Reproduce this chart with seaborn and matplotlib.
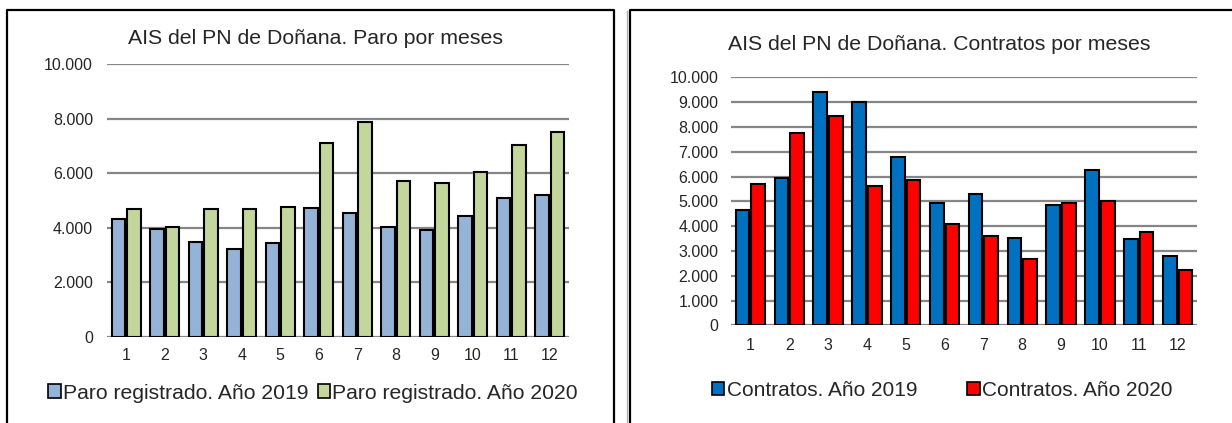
import matplotlib
matplotlib.use("Agg")
import matplotlib.pyplot as plt
from matplotlib.lines import Line2D
from matplotlib.patches import Patch
from matplotlib.ticker import FuncFormatter, MultipleLocator
import seaborn as sns
import pandas as pd

months = [str(m) for m in range(1, 13)]
paro_2019 = [4310, 3950, 3490, 3225, 3430, 4715, 4555, 4040, 3920, 4445, 5095, 5210]
paro_2020 = [4680, 4045, 4680, 4700, 4760, 7095, 7890, 5715, 5640, 6055, 7035, 7510]
contratos_2019 = [4640, 5940, 9420, 8990, 6800, 4930, 5280, 3510, 4840, 6250, 3470, 2805]
contratos_2020 = [5710, 7740, 8450, 5630, 5845, 4085, 3590, 2675, 4920, 5025, 3775, 2230]

paro_labels = ["Paro registrado. Año 2019", "Paro registrado. Año 2020"]
contratos_labels = ["Contratos. Año 2019", "Contratos. Año 2020"]
title_left = "AIS del PN de Doñana. Paro por meses"
title_right = "AIS del PN de Doñana. Contratos por meses"

paro_colors = ["#95B3D7", "#C3D69B"]
contratos_colors = ["#0070C0", "#FF0000"]

sns.set_style("white")
plt.rcParams["font.family"] = ["Liberation Sans", "DejaVu Sans"]

W, H = 1232, 423
fig = plt.figure(figsize=(W / 100, H / 100), dpi=100)


def px_axes(x0, x1, ytop, ybot):
    return fig.add_axes([x0 / W, 1 - ybot / H, (x1 - x0) / W, (ybot - ytop) / H])


def long_df(a, b, labels):
    return pd.DataFrame({
        "mes": months * 2,
        "valor": list(a) + list(b),
        "serie": [labels[0]] * 12 + [labels[1]] * 12,
    })


fmt = FuncFormatter(lambda v, p: f"{int(round(v)):,}".replace(",", "."))


def style_axes(ax, step, ypad, xpad):
    ax.set_xlim(-0.5, 11.5)
    ax.set_ylim(0, 10000)
    ax.yaxis.set_major_locator(MultipleLocator(step))
    ax.yaxis.set_major_formatter(fmt)
    ax.grid(axis="y", color="#868686", linewidth=1.6, zorder=0)
    ax.set_axisbelow(True)
    for s in ax.spines.values():
        s.set_visible(False)
    ax.tick_params(axis="y", length=0, pad=ypad, labelsize=11.5)
    ax.tick_params(axis="x", length=0, pad=xpad, labelsize=11.5)
    ax.set_xlabel("")
    ax.set_ylabel("")


# Left chart
axL = px_axes(107, 569, 64, 337)
sns.barplot(data=long_df(paro_2019, paro_2020, paro_labels), x="mes", y="valor",
            hue="serie", palette=paro_colors, saturation=1, width=0.8, gap=0.12,
            edgecolor="black", linewidth=1.5, ax=axL, legend=False, zorder=3)
style_axes(axL, 2000, 10, 8)

# Right chart
axR = px_axes(731, 1197, 77.3, 325.3)
sns.barplot(data=long_df(contratos_2019, contratos_2020, contratos_labels), x="mes", y="valor",
            hue="serie", palette=contratos_colors, saturation=1, width=0.8, gap=0.12,
            edgecolor="black", linewidth=1.5, ax=axR, legend=False, zorder=3)
style_axes(axR, 1000, 9, 9)

# Titles
fig.text(316 / W, 1 - 38 / H, title_left, ha="center", va="center", fontsize=15.3)
fig.text(939 / W, 1 - 44 / H, title_right, ha="center", va="center", fontsize=15.3)

# Legends
hL = [Patch(facecolor=c, edgecolor="black", linewidth=1.2) for c in paro_colors]
fig.legend(hL, paro_labels, loc="center", bbox_to_anchor=(313 / W, 1 - 393 / H),
           ncol=2, frameon=False, fontsize=15.2, handlelength=0.6, handleheight=0.6,
           handletextpad=0.1, columnspacing=0.45)
hR = [Patch(facecolor=c, edgecolor="black", linewidth=1.2) for c in contratos_colors]
fig.legend(hR, contratos_labels, loc="center", bbox_to_anchor=(942 / W, 1 - 390 / H),
           ncol=2, frameon=False, fontsize=15, handlelength=0.6, handleheight=0.6,
           handletextpad=0.1, columnspacing=2.4)

# Panel frames
def fl(xs, ys, color="black", lw=1.6):
    fig.add_artist(Line2D([x / W for x in xs], [1 - y / H for y in ys],
                          color=color, linewidth=lw, solid_capstyle="projecting"))

fl([7, 7, 614, 614], [H + 2, 10, 10, H + 2])
fl([627, 627], [11, H + 2], color="#b0b0b0", lw=1.0)
fl([630, 630, W + 2], [H + 2, 10, 10])

fig.savefig("out.png", dpi=100)
